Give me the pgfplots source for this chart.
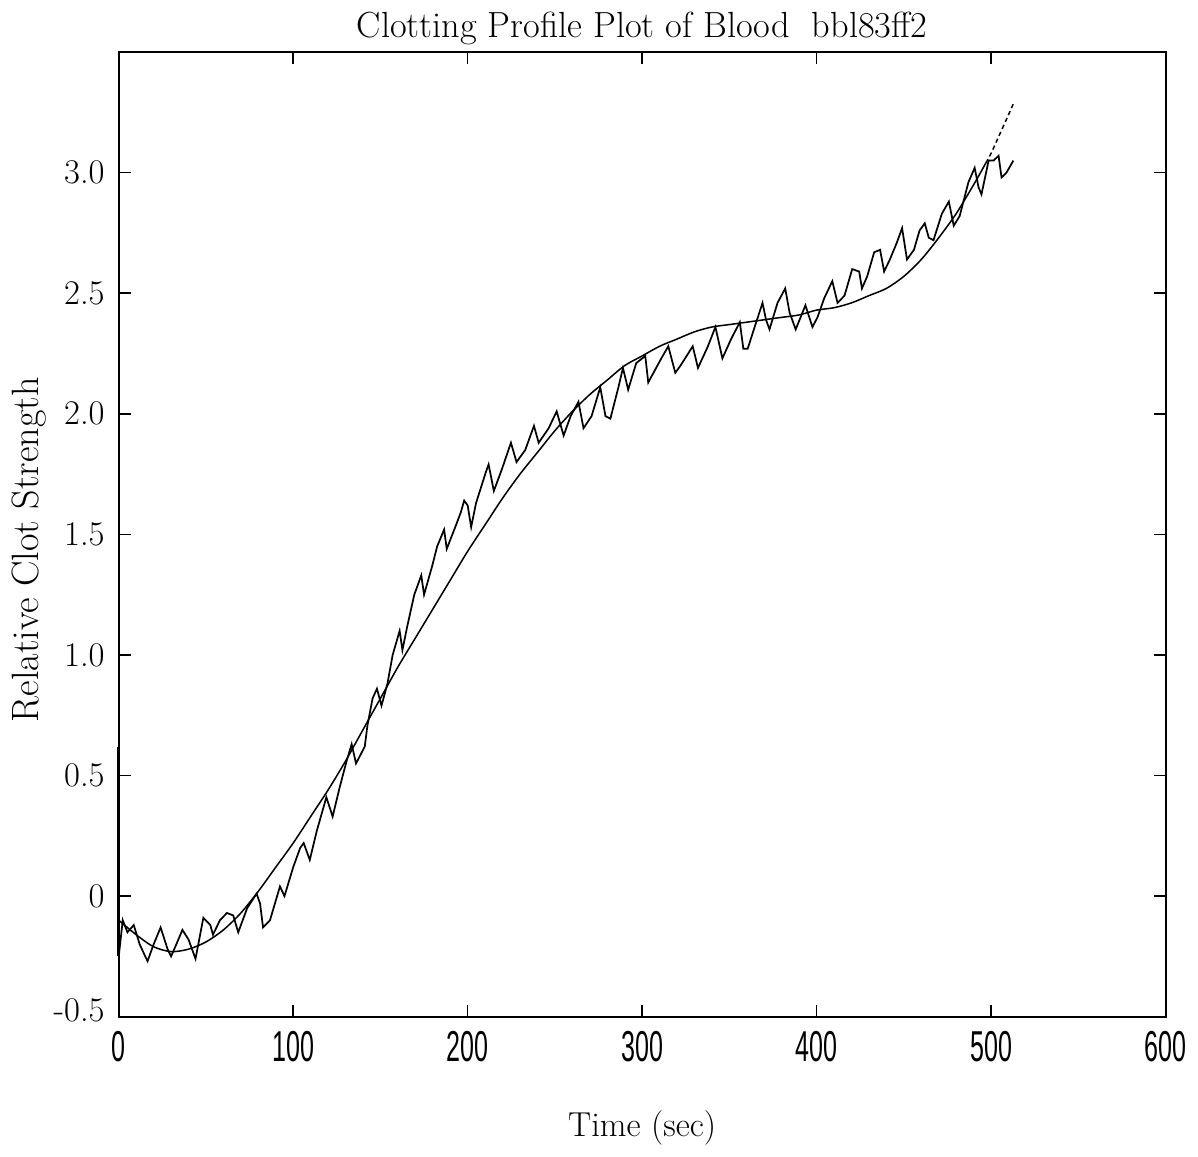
\documentclass[border=0pt]{standalone}
\usepackage{fontspec}
\usepackage{pgfplots}
\pgfplotsset{compat=1.18}
\newfontfamily\tickfont[FakeStretch=0.58]{Liberation Sans}

\begin{document}
\fontsize{16}{19}\selectfont
\begin{tikzpicture}
\begin{axis}[
  name=ax,
  width=484pt, height=446pt, scale only axis,
  xmin=0, xmax=600, ymin=-0.5, ymax=3.5,
  xtick={0,100,200,300,400,500,600},
  xticklabels={0,100,200,300,400,500,600},
  ytick={-0.5,0,0.5,1,1.5,2,2.5,3},
  yticklabels={\raisebox{6pt}{-0.5},\raisebox{-5pt}{0},0.5,1.0,1.5,2.0,2.5,3.0},
  tick align=inside,
  major tick length=5.5pt,
  axis line style={line width=0.9pt},
  tick style={line width=0.7pt, black},
  xticklabel style={font=\tickfont\fontsize{20}{22}\selectfont, yshift=-1pt},
  yticklabel style={xshift=-1pt},
  title={Clotting Profile Plot of Blood~~bbl83ff2},
  title style={font=\fontsize{16.8}{19}\selectfont, at={(axis description cs:0.5,1)}, anchor=south, yshift=-8pt},
  xlabel={Time (sec)},
  xlabel style={at={(axis description cs:0.5,0)}, anchor=north, yshift=-38pt},
  ylabel={Relative Clot Strength},
  ylabel style={font=\fontsize{17.6}{20}\selectfont, at={(axis description cs:-0.086,0.484)}, anchor=center, rotate=0},
  clip=false,
]
% spike at start
\addplot[black, line width=1.6pt] coordinates {(0,0.62) (0,-0.25)};
% noisy measured signal
\addplot[black, line width=0.8pt] coordinates {
(0,-0.25) (2.3,-0.10) (5,-0.15) (8.6,-0.12) (12,-0.20) (16.5,-0.27)
(20,-0.20) (24,-0.13) (28,-0.22) (30,-0.25) (33,-0.20) (36.5,-0.14) (40,-0.18)
(44,-0.26) (48.5,-0.09) (52.5,-0.12) (54,-0.16) (58,-0.10) (62,-0.07) (65.6,-0.08)
(68.5,-0.15) (73.6,-0.05) (79,0.01) (81,-0.03) (82.7,-0.13) (86.7,-0.10) (92.4,0.04)
(95,0.00) (100,0.12) (104,0.20) (106,0.22) (109.5,0.15) (113.5,0.27) (119,0.41)
(122.6,0.33) (126.6,0.45) (130.6,0.56) (133.5,0.63) (136,0.55) (141,0.62) (142.6,0.71)
(145.5,0.82) (148,0.86) (150.6,0.79) (154,0.88) (157,1.00) (161,1.10) (162.6,1.02)
(165.4,1.12) (169.4,1.25) (173.4,1.33) (175,1.25) (179.7,1.37) (182.5,1.45) (186.5,1.52)
(188,1.44) (193.4,1.54) (196,1.59) (198,1.64) (200,1.62) (202,1.53) (204.8,1.63)
(210.5,1.76) (212,1.79) (215,1.68) (219.6,1.77) (224.8,1.88) (228,1.80) (233,1.85)
(238,1.95) (240.7,1.88) (246.4,1.94) (251,2.01) (255,1.91) (259,1.99) (263.5,2.05)
(266.4,1.94) (271,1.99) (276,2.11) (279,1.99) (281.8,1.98) (286.4,2.11) (289,2.19)
(292,2.10) (296.6,2.21) (301.8,2.24) (303.5,2.13) (311,2.23) (315,2.28) (319,2.17)
(322,2.20) (329,2.28) (332,2.19) (337.7,2.28) (342,2.36) (346,2.23) (351,2.31)
(356,2.38) (358,2.27) (360.5,2.27) (364.5,2.36) (369,2.46) (371,2.39) (373,2.35)
(377.6,2.46) (382,2.52) (384.5,2.42) (388,2.35) (393.6,2.45) (397.6,2.36) (400.5,2.40)
(404.4,2.48) (409,2.55) (412,2.46) (416,2.49) (420.4,2.60) (424.4,2.59) (426,2.52)
(429,2.57) (433,2.67) (436.4,2.68) (438.7,2.59) (442,2.64) (446,2.71) (449,2.77)
(451.8,2.64) (455.8,2.68) (459,2.76) (462,2.79) (464.3,2.73) (467,2.72) (471.8,2.83)
(475.8,2.88) (478.6,2.78) (482,2.82) (487,2.96) (490.6,3.02) (492.8,2.94) (494.5,2.91)
(498.6,3.05) (501.4,3.05) (504.3,3.07) (506,2.98) (508.8,3.00) (512.8,3.05)
};
% fitted curve
\addplot[black, line width=0.7pt, smooth] coordinates {
(0,-0.10) (10,-0.16) (20,-0.21) (30,-0.23) (40,-0.22) (50,-0.19) (60,-0.14)
(70,-0.07) (80,0.02) (90,0.12) (100,0.22) (110,0.33) (120,0.44) (130,0.56)
(140,0.69) (150,0.82) (160,0.95) (170,1.07) (180,1.19) (190,1.31) (200,1.43)
(210,1.54) (220,1.65) (230,1.75) (240,1.84) (250,1.93) (260,2.01) (270,2.08)
(280,2.14) (290,2.20) (300,2.24) (310,2.28) (320,2.31) (330,2.34) (340,2.36)
(350,2.37) (360,2.38) (370,2.39) (380,2.40) (390,2.41) (400,2.43) (410,2.44)
(420,2.46) (430,2.49) (440,2.52) (450,2.57) (460,2.64) (470,2.73) (480,2.83)
(490,2.95) (497,3.04)
};
\addplot[black, line width=0.7pt, dash pattern=on 2pt off 1.5pt, smooth] coordinates {
(497,3.04) (500,3.08) (505,3.16) (510,3.24) (513,3.29)
};
\end{axis}
\path ([shift={(-54.3pt,-58.4pt)}]ax.south west) rectangle ([shift={(12.9pt,23pt)}]ax.north east);
\end{tikzpicture}
\end{document}
